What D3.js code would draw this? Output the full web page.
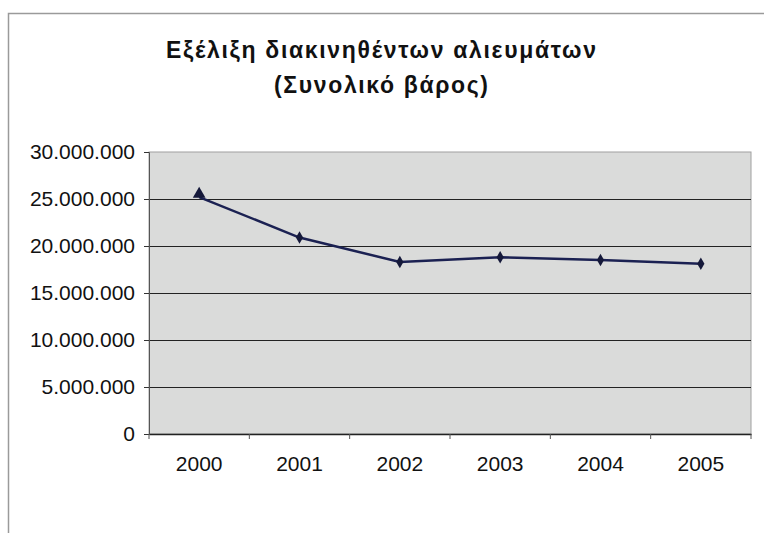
<!DOCTYPE html>
<html><head><meta charset="utf-8">
<script src="https://cdn.jsdelivr.net/npm/d3@7/dist/d3.min.js"></script>
<style>body{margin:0;background:#fff}svg{display:block}text{font-family:"Liberation Sans",Arial,sans-serif;fill:#111}</style>
</head><body><svg id="c" width="764" height="533"></svg>
<script>
const titleLines = ["Εξέλιξη διακινηθέντων αλιευμάτων", "(Συνολικό βάρος)"];
const years = ["2000","2001","2002","2003","2004","2005"];
const values = [25200000, 20900000, 18300000, 18800000, 18500000, 18100000];
const yTicks = [0, 5000000, 10000000, 15000000, 20000000, 25000000, 30000000];
const markerTypes = ["triangle","diamond","diamond","diamond","diamond","diamond"];

const svg = d3.select("#c");
const L = 149, R = 751, T = 152, B = 434;
const fmt = v => v === 0 ? "0" : d3.format(",")(v).replace(/,/g, ".");

// chart area border
svg.append("rect").attr("x",8.5).attr("y",13.5).attr("width",770).attr("height",540)
  .attr("fill","#fff").attr("stroke","#9a9a9a").attr("stroke-width",1.5);

const x = d3.scaleBand().domain(years).range([L, R]);
const y = d3.scaleLinear().domain([0, 30000000]).range([B, T]);

svg.append("rect").attr("x",L).attr("y",T).attr("width",R-L).attr("height",B-T)
  .attr("fill","#dadbda").attr("stroke","#a0a0a0").attr("stroke-width",1);

// gridlines
svg.append("g").selectAll("line").data(yTicks.filter(d=>d>0 && d<30000000)).join("line")
  .attr("x1",L).attr("x2",R).attr("y1",d=>Math.round(y(d))+0.5).attr("y2",d=>Math.round(y(d))+0.5)
  .attr("stroke","#222").attr("stroke-width",1);

// y axis
const yAxis = svg.append("g").attr("transform",`translate(${L},0)`)
  .call(d3.axisLeft(y).tickValues(yTicks).tickFormat(fmt).tickSize(5).tickPadding(9));
yAxis.select(".domain").attr("stroke","#555");
yAxis.selectAll(".tick line").attr("stroke","#333");
yAxis.selectAll("text").attr("font-size",21).attr("fill","#111").attr("font-family","Liberation Sans, Arial, sans-serif");

// x axis
const xAxis = svg.append("g").attr("transform",`translate(0,${B})`)
  .call(d3.axisBottom(x).tickSize(0).tickPadding(22));
xAxis.select(".domain").attr("stroke","#222").attr("stroke-width",1.5);
xAxis.selectAll("text").attr("font-size",21).attr("fill","#111").attr("font-family","Liberation Sans, Arial, sans-serif");
svg.append("g").selectAll("line").data(years.concat(["end"])).join("line")
  .attr("x1",(d,i)=>L + i*x.bandwidth()).attr("x2",(d,i)=>L + i*x.bandwidth())
  .attr("y1",B).attr("y2",B+5).attr("stroke","#555");

// line
const cx = d => x(d) + x.bandwidth()/2;
const line = d3.line().x((d,i)=>cx(years[i])).y(d=>y(d));
svg.append("path").datum(values).attr("d",line).attr("fill","none")
  .attr("stroke","#1b2152").attr("stroke-width",2.5);

// markers
svg.append("g").selectAll("path").data(values).join("path")
  .attr("transform",(d,i)=>`translate(${cx(years[i])},${y(d) - (markerTypes[i]==="triangle"?3:0)})`)
  .attr("d",(d,i)=>d3.symbol().type(markerTypes[i]==="triangle"?d3.symbolTriangle:d3.symbolDiamond).size(markerTypes[i]==="triangle"?70:45)())
  .attr("fill","#15193a");

// title
const titleWidths = [430, 214];
svg.append("g").selectAll("text").data(titleLines).join("text")
  .attr("x",381).attr("y",(d,i)=>58+i*35).attr("text-anchor","middle")
  .attr("font-size",23).attr("font-weight","bold")
  .attr("textLength",(d,i)=>titleWidths[i]).attr("lengthAdjust","spacing").text(d=>d);
</script></body></html>
